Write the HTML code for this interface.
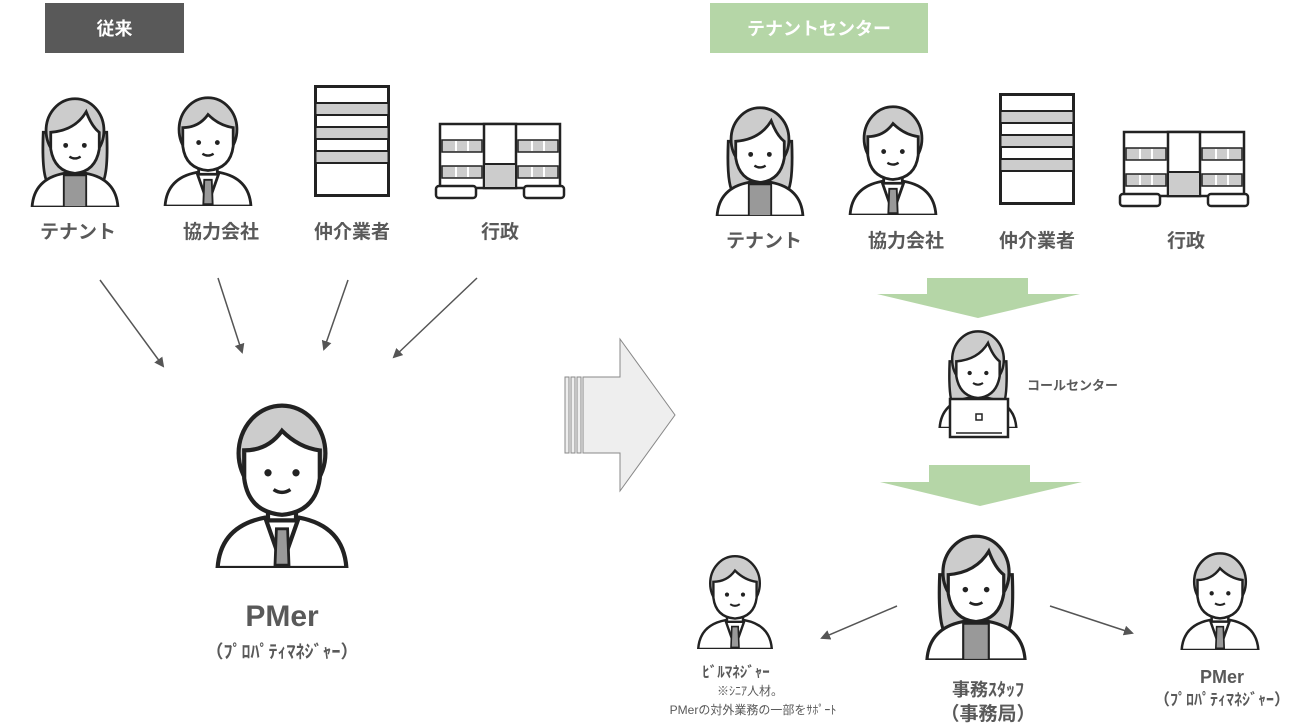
<!DOCTYPE html>
<html><head><meta charset="utf-8"><style>
html,body{margin:0;padding:0;background:#fff;}
svg{display:block}
text{font-family:"Liberation Sans","Noto Sans CJK JP",sans-serif;font-weight:bold;fill:#595959;}
</style></head><body>
<svg width="1312" height="728" viewBox="0 0 1312 728" xmlns="http://www.w3.org/2000/svg">
<defs>
<symbol id="man" viewBox="-50 0 100 120">
  <path d="M-46,120 Q-44,90 -12,84 L12,84 Q44,90 46,120 Z" fill="#fff" stroke="#222" stroke-width="3"/>
  <path d="M-12,84 L0,118 L12,84" fill="none" stroke="#222" stroke-width="3"/>
  <path d="M-4,92 L4,92 L5,118 L-5,118 Z" fill="#999" stroke="#222" stroke-width="2"/>
  <path d="M-10,72 L-10,86 L10,86 L10,72" fill="#fff" stroke="#222" stroke-width="3"/>
  <ellipse cx="0" cy="38" rx="31" ry="34" fill="#ccc" stroke="#222" stroke-width="3"/>
  <path d="M-27,36 Q-10,36 0,22 Q12,34 27,36 L27,56 Q24,80 0,82 Q-24,80 -27,56 Z" fill="#fff" stroke="#222" stroke-width="3"/>
  <circle cx="-10" cy="52" r="2.6" fill="#222"/><circle cx="10" cy="52" r="2.6" fill="#222"/>
  <path d="M-6,64 Q0,68 6,64" fill="none" stroke="#222" stroke-width="2.5"/>
</symbol>
<symbol id="woman" viewBox="-50 0 100 120">
  <path d="M-34,40 Q-36,88 -28,96 L28,96 Q36,88 34,40 Z" fill="#ccc" stroke="#222" stroke-width="3"/>
  <path d="M-46,120 Q-44,90 -12,84 L12,84 Q44,90 46,120 Z" fill="#fff" stroke="#222" stroke-width="3"/>
  <path d="M-12,86 L-12,120 L12,120 L12,86 Z" fill="#999" stroke="#222" stroke-width="2"/>
  <ellipse cx="0" cy="38" rx="31" ry="34" fill="#ccc" stroke="#222" stroke-width="3"/>
  <path d="M-26,40 Q0,38 12,18 Q18,34 26,40 L26,58 Q22,82 0,84 Q-22,82 -26,58 Z" fill="#fff" stroke="#222" stroke-width="3"/>
  <circle cx="-10" cy="54" r="2.6" fill="#222"/><circle cx="10" cy="54" r="2.6" fill="#222"/>
  <path d="M-6,66 Q0,70 6,66" fill="none" stroke="#222" stroke-width="2.5"/>
</symbol>
<symbol id="tower" viewBox="0 0 76 112">
  <rect x="1.5" y="1.5" width="73" height="109" fill="#fff" stroke="#222" stroke-width="3"/>
  <rect x="1.5" y="18" width="73" height="12" fill="#ccc" stroke="#222" stroke-width="2"/>
  <rect x="1.5" y="42" width="73" height="12" fill="#ccc" stroke="#222" stroke-width="2"/>
  <rect x="1.5" y="66" width="73" height="12" fill="#ccc" stroke="#222" stroke-width="2"/>
</symbol>
<symbol id="office" viewBox="0 0 132 78">
  <rect x="6" y="2" width="120" height="64" fill="#fff" stroke="#222" stroke-width="2.5"/>
  <rect x="50" y="2" width="32" height="64" fill="#fff" stroke="#222" stroke-width="2.5"/>
  <rect x="50" y="42" width="32" height="24" fill="#ccc" stroke="#222" stroke-width="2"/>
  <rect x="8" y="18" width="40" height="12" fill="#ccc" stroke="#222" stroke-width="1.5"/>
  <rect x="84" y="18" width="40" height="12" fill="#ccc" stroke="#222" stroke-width="1.5"/>
  <rect x="8" y="44" width="40" height="12" fill="#ccc" stroke="#222" stroke-width="1.5"/>
  <rect x="84" y="44" width="40" height="12" fill="#ccc" stroke="#222" stroke-width="1.5"/>
  <g stroke="#fff" stroke-width="2"><line x1="22" y1="19" x2="22" y2="29"/><line x1="34" y1="19" x2="34" y2="29"/><line x1="98" y1="19" x2="98" y2="29"/><line x1="110" y1="19" x2="110" y2="29"/><line x1="22" y1="45" x2="22" y2="55"/><line x1="34" y1="45" x2="34" y2="55"/><line x1="98" y1="45" x2="98" y2="55"/><line x1="110" y1="45" x2="110" y2="55"/></g>
  <rect x="2" y="64" width="40" height="12" rx="3" fill="#fff" stroke="#222" stroke-width="2.5"/>
  <rect x="90" y="64" width="40" height="12" rx="3" fill="#fff" stroke="#222" stroke-width="2.5"/>
</symbol>
<marker id="ah" markerWidth="10" markerHeight="10" refX="8" refY="5" orient="auto" markerUnits="userSpaceOnUse">
  <path d="M0,0 L10,5 L0,10 Z" fill="#555"/>
</marker>
</defs>

<rect x="45" y="3" width="139" height="50" fill="#595959"/>
<text x="114.5" y="35" text-anchor="middle" font-size="18" style="fill:#fff">従来</text>
<rect x="710" y="3" width="218" height="50" fill="#b5d6a7"/>
<text x="819" y="35" text-anchor="middle" font-size="18" style="fill:#fff">テナントセンター</text>

<use href="#woman" x="27" y="95" width="96" height="112"/>
<use href="#man" x="160" y="94" width="96" height="112"/>
<use href="#tower" x="314" y="85" width="76" height="112"/>
<use href="#office" x="434" y="122" width="132" height="78"/>
<text x="78" y="238" text-anchor="middle" font-size="19">テナント</text>
<text x="221" y="238" text-anchor="middle" font-size="19">協力会社</text>
<text x="352" y="238" text-anchor="middle" font-size="19">仲介業者</text>
<text x="500" y="238" text-anchor="middle" font-size="19">行政</text>

<g stroke="#555" stroke-width="1.5" marker-end="url(#ah)">
<line x1="100" y1="280" x2="163" y2="366"/>
<line x1="218" y1="278" x2="242" y2="352"/>
<line x1="348" y1="280" x2="324" y2="349"/>
<line x1="477" y1="278" x2="394" y2="357"/>
</g>

<use href="#man" x="196" y="400" width="172" height="168"/>
<text x="282" y="626" text-anchor="middle" font-size="30">PMer</text>
<text x="282" y="658" text-anchor="middle" font-size="18">（ﾌﾟﾛﾊﾟﾃｨﾏﾈｼﾞｬｰ）</text>

<g fill="#eee" stroke="#888" stroke-width="1">
<rect x="565" y="377" width="4" height="76"/>
<rect x="571" y="377" width="4" height="76"/>
<rect x="577" y="377" width="4" height="76"/>
<path d="M583,377 L620,377 L620,339 L675,415 L620,491 L620,453 L583,453 Z"/>
</g>

<use href="#woman" x="712" y="104" width="96" height="112"/>
<use href="#man" x="845" y="103" width="96" height="112"/>
<use href="#tower" x="999" y="93" width="76" height="112"/>
<use href="#office" x="1118" y="130" width="132" height="78"/>
<text x="764" y="247" text-anchor="middle" font-size="19">テナント</text>
<text x="906" y="247" text-anchor="middle" font-size="19">協力会社</text>
<text x="1037" y="247" text-anchor="middle" font-size="19">仲介業者</text>
<text x="1186" y="247" text-anchor="middle" font-size="19">行政</text>

<path d="M927,278 L1028,278 L1028,294 L1080,294 L978,318 L877,294 L927,294 Z" fill="#b5d6a7"/>
<path d="M929,465 L1030,465 L1030,482 L1082,482 L980,506 L880,482 L929,482 Z" fill="#b5d6a7"/>

<use href="#woman" x="935" y="328" width="86" height="100"/>
<rect x="950" y="399" width="58" height="38" fill="#fff" stroke="#222" stroke-width="2.5"/>
<rect x="976" y="414" width="6" height="6" fill="#fff" stroke="#222" stroke-width="1.5"/>
<line x1="956" y1="433" x2="1002" y2="433" stroke="#222" stroke-width="1.5"/>
<text x="1027" y="390" font-size="13">コールセンター</text>

<use href="#man" x="695" y="553" width="80" height="96"/>
<use href="#woman" x="920" y="532" width="112" height="128"/>
<use href="#man" x="1178" y="550" width="84" height="100"/>
<g stroke="#555" stroke-width="1.5" marker-end="url(#ah)">
<line x1="897" y1="606" x2="822" y2="638"/>
<line x1="1050" y1="606" x2="1132" y2="633"/>
</g>
<text x="736" y="677" text-anchor="middle" font-size="15">ﾋﾞﾙﾏﾈｼﾞｬｰ</text>
<text x="750" y="695" text-anchor="middle" font-size="12" style="font-weight:normal">※ｼﾆｱ人材。</text>
<text x="753" y="714" text-anchor="middle" font-size="12" style="font-weight:normal">PMerの対外業務の一部をｻﾎﾟｰﾄ</text>
<text x="988" y="696" text-anchor="middle" font-size="18">事務ｽﾀｯﾌ</text>
<text x="988" y="720" text-anchor="middle" font-size="19">（事務局）</text>
<text x="1222" y="683" text-anchor="middle" font-size="18">PMer</text>
<text x="1222" y="705" text-anchor="middle" font-size="16">（ﾌﾟﾛﾊﾟﾃｨﾏﾈｼﾞｬｰ）</text>
</svg>
</body></html>
